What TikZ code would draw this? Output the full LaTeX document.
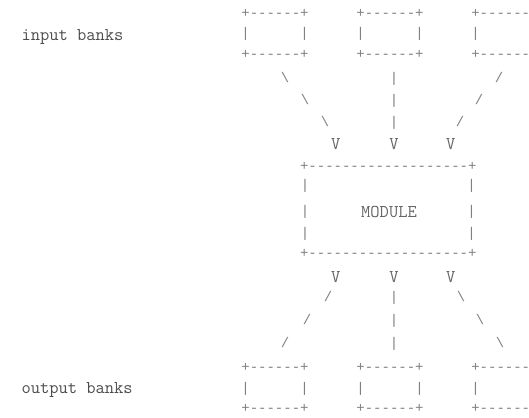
\documentclass[tikz,border=0pt]{standalone}
\usepackage{fontspec}
\newfontfamily\dmono{Liberation Mono}
\definecolor{ink}{gray}{0.30}
\definecolor{mid}{gray}{0.40}
\definecolor{lite}{gray}{0.50}
\newcommand\hy{-\kern0pt}
\newcommand\bankedge{+\hy\hy\hy\hy\hy\hy+}
\newcommand\bankcut{+\hy\hy\hy\hy\hy\rlap{-}}
\newcommand\modedge{+\hy\hy\hy\hy\hy\hy\hy\hy\hy\hy\hy\hy\hy\hy\hy\hy\hy\hy\hy+}
\begin{document}
\begin{tikzpicture}[x=1pt,y=-1pt,
  g/.style={inner sep=0pt, outer sep=0pt, anchor=base, text=lite,
            font=\dmono\fontsize{14}{14}\selectfont},
  gw/.style={g, anchor=base west},
  vv/.style={inner sep=0pt, outer sep=0pt, anchor=base, text=mid,
            font=\ttfamily\fontsize{18}{18}\selectfont},
  lab/.style={inner sep=0pt, outer sep=0pt, anchor=base west, text=ink,
            font=\ttfamily\fontsize{18}{18}\selectfont}]
\useasboundingbox (0,0) rectangle (529,417);
% labels
\node[lab] (inlabel) at (21.5,40.7) {input banks};
\node[lab] (outlabel) at (21.5,393) {output banks};
% input and output banks (first two complete)
\foreach \i/\x in {1/275,2/390}{
  \node[g] (in\i t) at (\x,12.7+4.4) {\bankedge};
  \node[g] (in\i b) at (\x,54.5+4.4) {\bankedge};
  \node[g] (in\i l) at (\x-29.5,33.5+4.4) {|};
  \node[g] (in\i r) at (\x+29.5,33.5+4.4) {|};
  \node[g] (out\i t) at (\x,366.7+4.4) {\bankedge};
  \node[g] (out\i b) at (\x,408.5+4.4) {\bankedge};
  \node[g] (out\i l) at (\x-29.5,388+4.4) {|};
  \node[g] (out\i r) at (\x+29.5,388+4.4) {|};
}
% third banks, cut by the right edge
\node[gw] (in3t) at (471.3,12.7+4.4) {\bankcut};
\node[gw] (in3b) at (471.3,54.5+4.4) {\bankcut};
\node[g] (in3l) at (475.5,33.5+4.4) {|};
\node[gw] (out3t) at (471.3,366.7+4.4) {\bankcut};
\node[gw] (out3b) at (471.3,408.5+4.4) {\bankcut};
\node[g] (out3l) at (475.5,388+4.4) {|};
% module
\node[g] (modt) at (388.3,165.7+4.4) {\modedge};
\node[g] (modb) at (388.3,253.5+4.4) {\modedge};
\foreach \k/\y in {1/185,2/211.5,3/233}{
  \node[g] (modl\k) at (305,\y+4.4) {|};
  \node[g] (modr\k) at (471.5,\y+4.4) {|};
}
\node[vv] (module) at (389,211.5+5.5) {MODULE};
% top connectors
\foreach \k/\xa/\xb/\y in {1/285/499/78,2/305/479/100,3/325/460/122}{
  \node[g] (tl\k) at (\xa,\y+4.4) {\textbackslash};
  \node[g] (tm\k) at (394,\y+4.4) {|};
  \node[g] (tr\k) at (\xb,\y+4.4) {/};
}
\node[vv] (v1) at (335.7,144+5.5) {V};
\node[vv] (v2) at (394,144+5.5) {V};
\node[vv] (v3) at (450.7,144+5.5) {V};
% bottom connectors
\node[vv] (w1) at (335.7,276.7+5.5) {V};
\node[vv] (w2) at (394,276.7+5.5) {V};
\node[vv] (w3) at (450.7,276.7+5.5) {V};
\foreach \k/\xa/\xb/\y in {1/328/461/297,2/307/480/320,3/285/500/343}{
  \node[g] (bl\k) at (\xa,\y+4.4) {/};
  \node[g] (bm\k) at (394,\y+4.4) {|};
  \node[g] (br\k) at (\xb,\y+4.4) {\textbackslash};
}
\end{tikzpicture}
\end{document}
